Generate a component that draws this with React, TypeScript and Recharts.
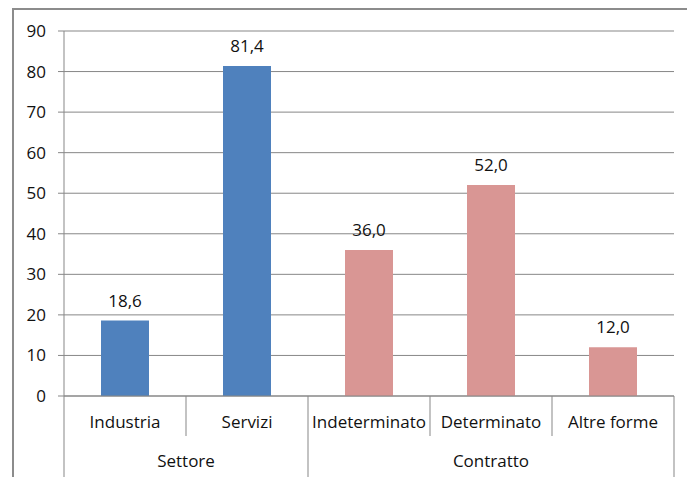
import { BarChart, Bar, XAxis, YAxis, CartesianGrid, Cell, LabelList } from 'recharts';

const categories = ['Industria', 'Servizi', 'Indeterminato', 'Determinato', 'Altre forme'];
const groups = ['Settore', 'Settore', 'Contratto', 'Contratto', 'Contratto'];
const values = [18.6, 81.4, 36.0, 52.0, 12.0];
const yTicks = [0, 10, 20, 30, 40, 50, 60, 70, 80, 90];

const groupColors: Record<string, string> = {
  Settore: '#4F81BD',
  Contratto: '#D99694',
};

const data = categories.map((name, i) => ({ name, group: groups[i], value: values[i] }));

const FONT = '"Open Sans", sans-serif';
const LINE = '#878787';
const AXIS_H = 81;

const fmt = (v: number) => v.toFixed(1).replace('.', ',');

function CategoryTick(props: any) {
  const { x, y, payload, index } = props;
  const half = payload.offset || 0;
  const left = x - half;
  const isGroupStart = index === 0 || groups[index] !== groups[index - 1];
  const isLast = index === categories.length - 1;
  const g = groups[index];
  const count = groups.filter((v) => v === g).length;
  const groupCenter = left + count * half;
  return (
    <g>
      <text x={x} y={y + 27} textAnchor="middle" dominantBaseline="middle" fontFamily={FONT} fontSize={17} fill="#111">
        {categories[index]}
      </text>
      <line x1={left} y1={y} x2={left} y2={y + (isGroupStart ? AXIS_H : 40)} stroke={LINE} strokeWidth={1} />
      {isLast && <line x1={x + half} y1={y} x2={x + half} y2={y + AXIS_H} stroke={LINE} strokeWidth={1} />}
      {isGroupStart && (
        <text x={groupCenter} y={y + 66} textAnchor="middle" dominantBaseline="middle" fontFamily={FONT} fontSize={17} fill="#111">
          {g}
        </text>
      )}
    </g>
  );
}

export default function App() {
  return (
    <div
      style={{
        position: 'fixed',
        left: 12,
        top: 8,
        width: 673,
        height: 467,
        borderLeft: '2px solid #8c8c8c',
        borderTop: '2px solid #8c8c8c',
        background: '#fff',
      }}
    >
      <BarChart width={673} height={467} data={data} margin={{ top: 21, right: 13, bottom: 0, left: 0 }}>
        <CartesianGrid vertical={false} stroke={LINE} />
        <XAxis
          dataKey="name"
          height={AXIS_H}
          tickSize={0}
          tickMargin={0}
          axisLine={{ stroke: LINE }}
          tickLine={false}
          interval={0}
          tick={<CategoryTick />}
        />
        <YAxis
          width={50}
          domain={[0, 90]}
          ticks={yTicks}
          tickSize={6}
          tickMargin={12}
          axisLine={{ stroke: LINE }}
          tickLine={{ stroke: LINE }}
          tick={{ fontFamily: FONT, fontSize: 17, fill: '#111' }}
          interval={0}
        />
        <Bar dataKey="value" barSize={48} isAnimationActive={false}>
          {data.map((d) => (
            <Cell key={d.name} fill={groupColors[d.group]} />
          ))}
          <LabelList
            dataKey="value"
            position="top"
            offset={14}
            formatter={(v: any) => fmt(Number(v))}
            style={{ fontFamily: FONT, fontSize: 17, fill: '#111' }}
          />
        </Bar>
      </BarChart>
    </div>
  );
}
